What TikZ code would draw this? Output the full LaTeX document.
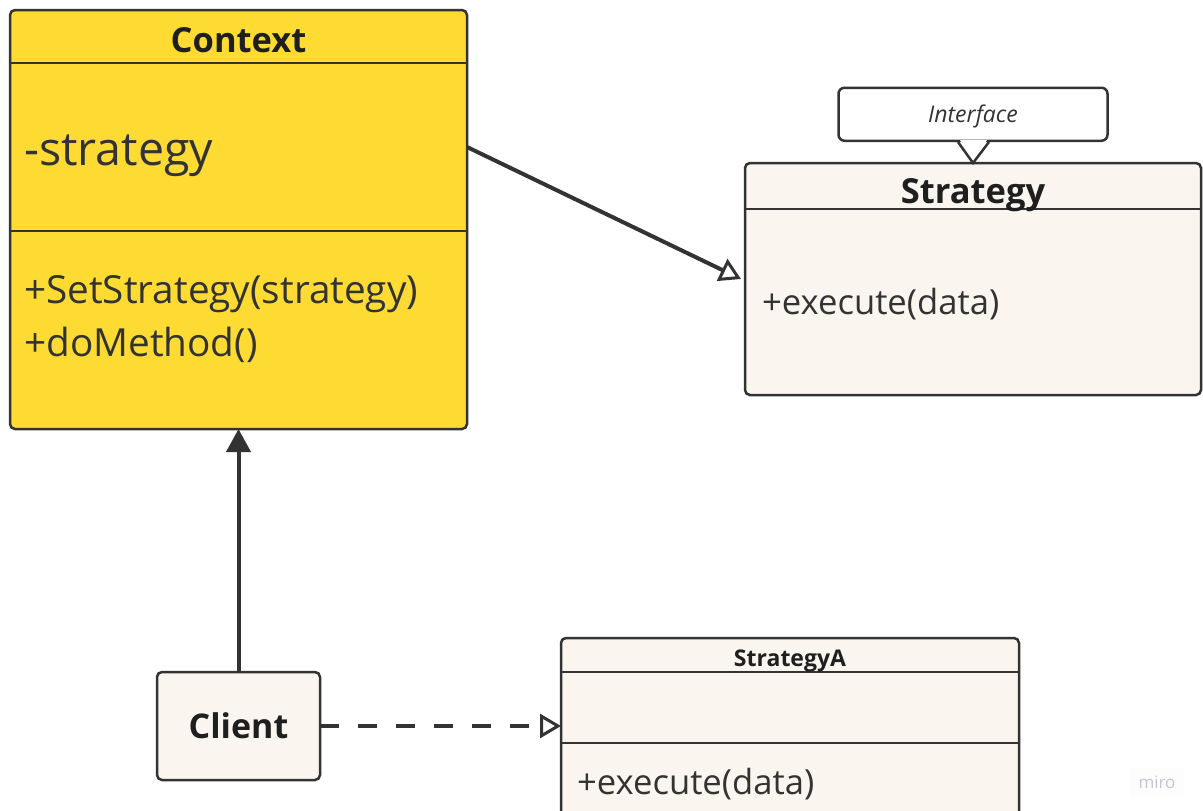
\documentclass[tikz,border=0pt]{standalone}
\usepackage{fontspec}
\setmainfont{Open Sans}
\usetikzlibrary{positioning}
\usetikzlibrary{arrows.meta}
\definecolor{ctxyellow}{HTML}{FEDB32}
\definecolor{cream}{HTML}{FAF6EF}
\definecolor{ink}{HTML}{333333}
\definecolor{watermark}{HTML}{C4C4D2}
\tikzset{
      classbox/.style={ % Frame of a class, compartments are added by hand
      draw=ink,
      line width=2.5pt,
      rounded corners=5pt,
      inner sep=0pt,
      outer sep=0pt,
      anchor=north west},
      divider/.style={draw=ink, line width=2.5pt}, % Line between compartments
      title/.style={anchor=base, text=black!88, font=\bfseries\fontsize{34.5}{41}\selectfont},
      member/.style={anchor=base west, text=ink, inner sep=0pt, font=\fontsize{38.7}{46}\selectfont},
      note/.style={ % Stereotype bubble above a class
      draw=ink,
      fill=white,
      line width=2.5pt,
      rounded corners=6pt,
      minimum width=269pt,
      minimum height=53pt,
      text height=17pt,
      text depth=0pt,
      font=\itshape\fontsize{23}{27}\selectfont,
      text=ink},
      link/.style={draw=ink, line width=4pt}, % Connectors between classes
      realize/.style={-{Triangle[length=21pt, width=24pt, fill=white, line width=3pt]}},
      uses/.style={-{Triangle[length=23pt, width=24pt]}}}

\begin{document}
\begin{tikzpicture}[x=1pt, y=-1pt]
      \useasboundingbox (0,0) rectangle (1203,811);
      \clip (0,0) rectangle (1203,811);
      \fill[white] (0,0) rectangle (1203,811);

      % Context
      \node[classbox, fill=ctxyellow, minimum width=457pt, minimum height=419pt] (context) at (10,10) {};
      \draw[divider] ([yshift=-53pt]context.north west) -- ([yshift=-53pt]context.north east);
      \draw[divider] ([yshift=-221pt]context.north west) -- ([yshift=-221pt]context.north east);
      \node[title] (contexttitle) at ([yshift=-42pt]context.north) {Context};
      \node[member, font=\fontsize{46.5}{55}\selectfont] (contextattr) at (24,165) {-strategy};
      \node[member] (setstrategy) at (24,303) {+SetStrategy(strategy)};
      \node[member] (domethod) at (24,356) {+doMethod()};
      \coordinate (contextout) at ([yshift=-137pt]context.north east);

      % Strategy interface
      \node[classbox, fill=cream, minimum width=456pt, minimum height=232pt] (strategy) at (745,163) {};
      \draw[divider] ([yshift=-46pt]strategy.north west) -- ([yshift=-46pt]strategy.north east);
      \node[title] (strategytitle) at ([yshift=-40pt]strategy.north) {Strategy};
      \node[member, font=\fontsize{34.6}{41}\selectfont] (execute) at (762,314) {+execute(data)};

      % Stereotype bubble
      \node[note, above=21pt of strategy.north] (note) {Interface};
      \fill[white] ([xshift=-13pt,yshift=2pt]note.south) -- (strategy.north) -- ([xshift=14pt,yshift=2pt]note.south) -- cycle;
      \draw[divider, line join=miter] ([xshift=-15pt]note.south) -- (strategy.north) -- ([xshift=16pt]note.south);

      % StrategyA
      \node[classbox, fill=cream, minimum width=458pt, minimum height=200pt] (strategya) at (561,638) {};
      \draw[divider] ([yshift=-34pt]strategya.north west) -- ([yshift=-34pt]strategya.north east);
      \draw[divider] ([yshift=-105pt]strategya.north west) -- ([yshift=-105pt]strategya.north east);
      \node[title, font=\bfseries\fontsize{23}{27}\selectfont] (strategyatitle) at ([yshift=-28pt]strategya.north) {StrategyA};
      \node[member, font=\fontsize{34.6}{41}\selectfont] (executea) at (577,794) {+execute(data)};

      % Client
      \node[classbox, fill=cream, anchor=center, minimum width=163pt, minimum height=108pt] (client) at (238.5,726) {};
      \node[title, font=\bfseries\fontsize{34}{40}\selectfont] (clienttitle) at ([yshift=-12pt]client.center) {Client};

      % watermark
      \node[fill=white!96!watermark, text=watermark, font=\fontsize{17}{20}\selectfont,
            minimum width=55pt, minimum height=29pt] (miro) at (1157,782) {miro};

      % connectors
      \draw[link, realize] (contextout) -- ([xshift=-4pt]strategy.west);
      \draw[link, uses] (client.north) -- (client.north |- context.south);
      \draw[link, realize, dash pattern=on 19pt off 19pt] (client.east) -- (client.east -| strategya.west);
\end{tikzpicture}
\end{document}
